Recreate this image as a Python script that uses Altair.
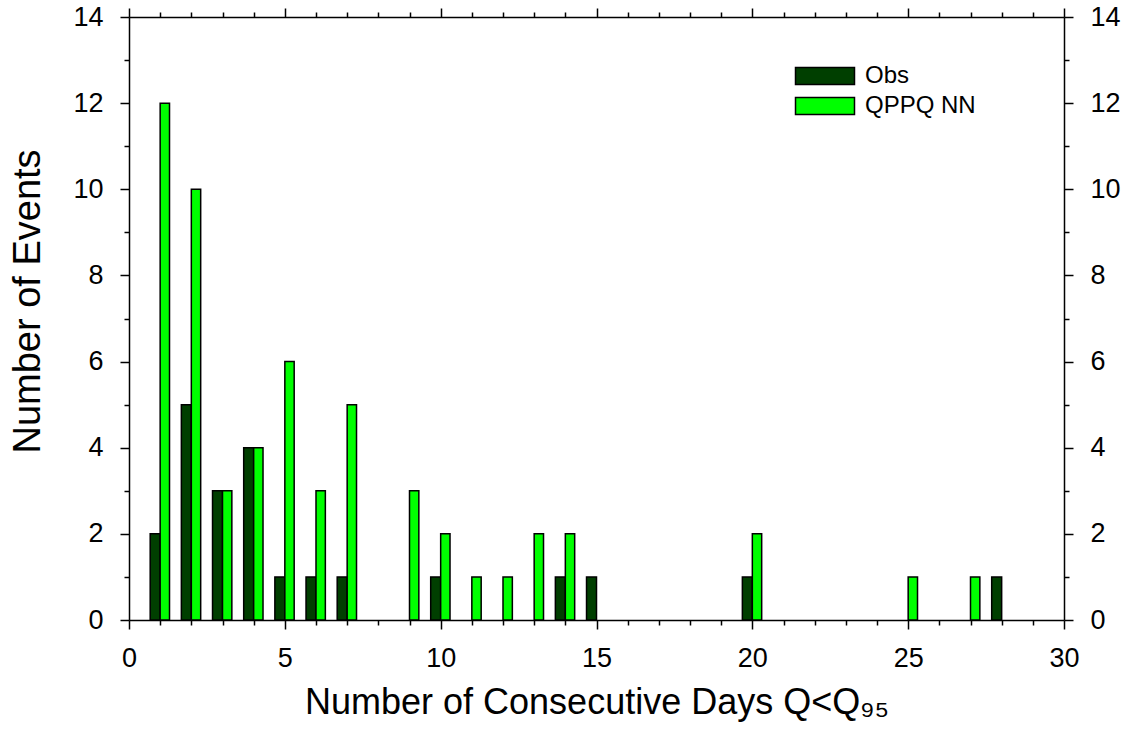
import altair as alt
import pandas as pd

# ---- data ----
obs_days = [1, 2, 3, 4, 5, 6, 7, 10, 14, 15, 20, 28]
obs_counts = [2, 5, 3, 4, 1, 1, 1, 1, 1, 1, 1, 1]
qppq_days = [1, 2, 3, 4, 5, 6, 7, 9, 10, 11, 12, 13, 14, 20, 25, 27]
qppq_counts = [12, 10, 3, 4, 6, 3, 5, 3, 2, 1, 1, 2, 2, 2, 1, 1]

series_names = ["Obs", "QPPQ NN"]
series_colors = ["#003f00", "#00ff00"]

x_tick_values = list(range(0, 31))
y_tick_values = list(range(0, 15))

df = pd.concat([
    pd.DataFrame({"days": obs_days, "events": obs_counts, "series": series_names[0]}),
    pd.DataFrame({"days": qppq_days, "events": qppq_counts, "series": series_names[1]}),
], ignore_index=True)

FONT = "Liberation Sans"

x_tick_size = {"condition": {"test": "datum.value % 5 === 0", "value": 9}, "value": 5}
y_tick_size = {"condition": {"test": "datum.value % 2 === 0", "value": 9}, "value": 5}

common = dict(
    grid=False, domainColor="black", domainWidth=1.5, tickColor="black", tickWidth=1.5,
    labelFont=FONT, labelFontSize=27, labelColor="black", labelOverlap=False,
    labelFlush=False, titleFont=FONT, titleFontWeight="normal",
    titleColor="black",
)

bottom_axis = alt.Axis(
    orient="bottom", values=x_tick_values, tickSize=x_tick_size,
    labelExpr="datum.value % 5 === 0 ? datum.label : ''",
    labelPadding=16, title="Number of Consecutive Days Q<Q₉₅", titleFontSize=36,
    titlePadding=14, **common)
top_axis = alt.Axis(
    orient="top", values=x_tick_values, tickSize=x_tick_size, labels=False, title=None, **common)
left_axis = alt.Axis(
    orient="left", values=y_tick_values, tickSize=y_tick_size,
    labelExpr="datum.value % 2 === 0 ? datum.label : ''",
    labelPadding=17, title="Number of Events", titleFontSize=38, titlePadding=25,
    titleY=284, **common)
right_axis = alt.Axis(
    orient="right", values=y_tick_values, tickSize=y_tick_size,
    labelExpr="datum.value % 2 === 0 ? datum.label : ''",
    labelPadding=17, title=None, **common)

x_scale = alt.Scale(domain=[0, 30], nice=False, zero=False)
y_scale = alt.Scale(domain=[0, 14], nice=False)

base = alt.Chart(df).transform_calculate(
    x0="datum.series === 'Obs' ? datum.days - 0.32 : datum.days",
    x1="datum.series === 'Obs' ? datum.days : datum.days + 0.3",
)

bars = base.mark_rect(stroke="black", strokeWidth=1.5).encode(
    x=alt.X("x0:Q", scale=x_scale, axis=bottom_axis),
    x2="x1:Q",
    y=alt.Y("events:Q", scale=y_scale, axis=left_axis),
    y2=alt.datum(0),
    color=alt.Color(
        "series:N",
        scale=alt.Scale(domain=series_names, range=series_colors),
        legend=alt.Legend(
            title=None, orient="none", legendX=684, legendY=47, padding=0,
            symbolType="M-3.47,-1H3.47V1H-3.47Z", symbolSize=289,
            symbolStrokeColor="black", symbolStrokeWidth=1.5, symbolOpacity=1,
            labelFont=FONT, labelFontSize=24, labelColor="black",
            labelOffset=28, rowPadding=6,
        ),
    ),
)

frame = base.mark_rect(opacity=0).encode(
    x=alt.X("x0:Q", scale=x_scale, axis=top_axis),
    x2="x1:Q",
    y=alt.Y("events:Q", scale=y_scale, axis=right_axis),
    y2=alt.datum(0),
)

chart = alt.layer(bars, frame).resolve_axis(
    x="independent", y="independent"
).properties(
    width=935, height=603,
    autosize=alt.AutoSizeParams(type="none"),
    padding={"left": 129, "top": 17, "right": 67, "bottom": 120},
    background="white",
).configure_view(stroke=None)

chart.save("out.html", embed_options={"renderer": "svg", "actions": False})
